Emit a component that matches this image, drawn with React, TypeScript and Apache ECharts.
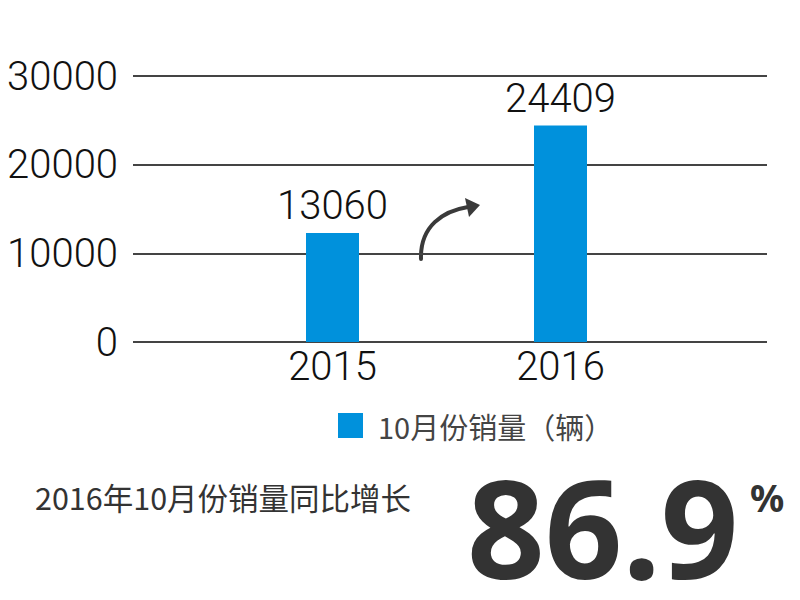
import React, { useEffect, useRef } from "react";
import * as echarts from "echarts";

const categories = ["2015", "2016"];
// bar heights as drawn in the picture
const barValues = [12300, 24409];
// value labels as printed above the bars
const labelValues = ["13060", "24409"];
const yTicks = [0, 10000, 20000, 30000];
const seriesName = "10月份销量（辆）";
const caption = "2016年10月份销量同比增长";
const growth = "86.9";

const NUM_FONT = "Roboto";
const CJK_FONT = "'Noto Sans CJK SC', 'Noto Sans', sans-serif";

export default function App() {
  const ref = useRef<HTMLDivElement>(null);
  useEffect(() => {
    if (!ref.current) return;
    const chart = echarts.init(ref.current, undefined, { renderer: "svg" });
    const yMax = yTicks[yTicks.length - 1];
    const interval = yTicks[1] - yTicks[0];
    chart.setOption({
      animation: false,
      backgroundColor: "#ffffff",
      grid: [
        { left: 133, right: 33, top: 76, bottom: 258, outerBoundsMode: "none" },
        { left: 218.5, right: 125.5, top: 76, bottom: 258, outerBoundsMode: "none" },
      ],
      xAxis: [
        { type: "value", gridIndex: 0, show: false, min: 0, max: 1 },
        {
          type: "category",
          gridIndex: 1,
          data: categories,
          axisLine: { show: false },
          axisTick: { show: false },
          axisLabel: {
            fontSize: 40,
            fontFamily: NUM_FONT,
            fontWeight: 300,
            color: "#111",
            margin: 4,
          },
        },
      ],
      yAxis: [
        {
          type: "value",
          gridIndex: 0,
          min: 0,
          max: yMax,
          interval,
          axisLine: { show: false },
          axisTick: { show: false },
          axisLabel: {
            fontSize: 40,
            fontFamily: NUM_FONT,
            fontWeight: 300,
            color: "#111",
            margin: 15,
            formatter: (v: number) => String(v),
          },
          splitLine: { lineStyle: { color: "#444", width: 2 } },
        },
        { type: "value", gridIndex: 1, min: 0, max: yMax, show: false },
      ],
      legend: {
        left: 338,
        top: 411,
        padding: 0,
        itemWidth: 25,
        itemHeight: 25,
        itemGap: 5,
        icon: "rect",
        data: [seriesName],
        textStyle: {
          fontSize: 29,
          fontFamily: CJK_FONT,
          color: "#444",
          padding: [0, 0, 0, 10],
        },
      },
      series: [
        {
          name: seriesName,
          type: "bar",
          xAxisIndex: 1,
          yAxisIndex: 1,
          barWidth: 53,
          data: barValues,
          itemStyle: { color: "#0091DC" },
          label: {
            show: true,
            position: "top",
            distance: 7,
            fontSize: 40,
            fontFamily: NUM_FONT,
            fontWeight: 300,
            color: "#111",
            formatter: (p: any) => labelValues[p.dataIndex],
          },
        },
      ],
      graphic: [
        {
          type: "bezierCurve",
          shape: { x1: 421, y1: 259, cpx1: 420, cpy1: 226, cpx2: 443, cpy2: 211, x2: 468, y2: 207 },
          style: { stroke: "#3a3a3a", lineWidth: 4, fill: null, lineCap: "round" },
        },
        {
          type: "polygon",
          shape: { points: [[465, 198], [480, 205], [469, 217]] },
          style: { fill: "#3a3a3a" },
        },
        {
          type: "text",
          left: 35,
          top: 482,
          style: { text: caption, fontSize: 30.5, fontFamily: CJK_FONT, fill: "#333" },
        },
        {
          type: "text",
          left: 467,
          top: 458,
          style: {
            text: growth,
            fontSize: 136,
            lineHeight: 130,
            fontWeight: "bold",
            fontFamily: "'Noto Sans', 'Open Sans', sans-serif",
            fill: "#333",
          },
        },
        {
          type: "text",
          left: 750,
          top: 478,
          style: {
            text: "%",
            fontSize: 38,
            fontWeight: "bold",
            fontFamily: "'Noto Sans', sans-serif",
            fill: "#333",
          },
        },
      ],
    });
    return () => chart.dispose();
  }, []);
  return (
    <div
      ref={ref}
      style={{ position: "fixed", left: 0, top: 0, width: 800, height: 600 }}
    />
  );
}
